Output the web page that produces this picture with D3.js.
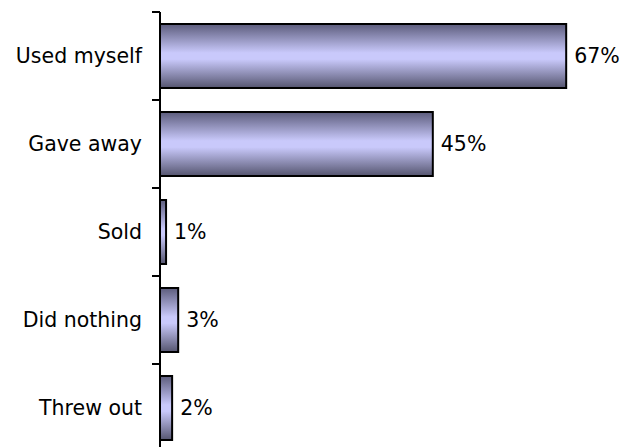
<!DOCTYPE html>
<html>
<head>
<meta charset="utf-8">
<script src="https://cdn.jsdelivr.net/npm/d3@7"></script>
<style>
  html, body { margin: 0; padding: 0; background: #fff; }
  svg { display: block; }
  text { font-family: Tahoma, "DejaVu Sans", Verdana, sans-serif; fill: #000; }
</style>
</head>
<body>
<svg id="chart" width="624" height="447"></svg>
<script>
// What people did with the items
const categories = ["Used myself", "Gave away", "Sold", "Did nothing", "Threw out"];
const values = [67, 45, 1, 3, 2]; // percent

const svg = d3.select("#chart");
const axisX = 160;

const x = d3.scaleLinear().domain([0, 80]).range([axisX, axisX + 485]);
const y = d3.scaleBand().domain(categories).range([12, 452]).paddingInner(0.2727).paddingOuter(0.1364);

// Bar shading: dark edges, light centre
const defs = svg.append("defs");
const grad = defs.append("linearGradient")
  .attr("id", "barShade").attr("x1", 0).attr("y1", 0).attr("x2", 0).attr("y2", 1);
grad.append("stop").attr("offset", "0%").attr("stop-color", "#5c5c7c");
grad.append("stop").attr("offset", "45%").attr("stop-color", "#c9c9fb");
grad.append("stop").attr("offset", "55%").attr("stop-color", "#c9c9fb");
grad.append("stop").attr("offset", "100%").attr("stop-color", "#55556f");

const data = categories.map((c, i) => ({ c, v: values[i] }));

svg.append("g").selectAll("rect").data(data).join("rect")
  .attr("x", x(0))
  .attr("y", d => y(d.c))
  .attr("width", d => x(d.v) - x(0))
  .attr("height", y.bandwidth())
  .attr("fill", "url(#barShade)")
  .attr("stroke", "#000")
  .attr("stroke-width", 2);

// Category axis with ticks between bands
const step = y.step();
const bounds = d3.range(categories.length + 1).map(i => 12 + i * step);
const axisG = svg.append("g");
axisG.append("line")
  .attr("x1", axisX).attr("x2", axisX)
  .attr("y1", 12).attr("y2", 452)
  .attr("stroke", "#000").attr("stroke-width", 2);
axisG.selectAll("line.tick").data(bounds).join("line")
  .attr("class", "tick")
  .attr("x1", axisX - 8).attr("x2", axisX)
  .attr("y1", d => d).attr("y2", d => d)
  .attr("stroke", "#000").attr("stroke-width", 2);

// Category labels
svg.append("g").selectAll("text").data(data).join("text")
  .attr("x", axisX - 18)
  .attr("y", d => y(d.c) + y.bandwidth() / 2)
  .attr("text-anchor", "end")
  .attr("dominant-baseline", "central")
  .attr("font-size", 20.5)
  .text(d => d.c);

// Value labels
svg.append("g").selectAll("text").data(data).join("text")
  .attr("x", d => x(d.v) + 8)
  .attr("y", d => y(d.c) + y.bandwidth() / 2)
  .attr("dominant-baseline", "central")
  .attr("font-size", 20.5)
  .text(d => d.v + "%");
</script>
</body>
</html>
